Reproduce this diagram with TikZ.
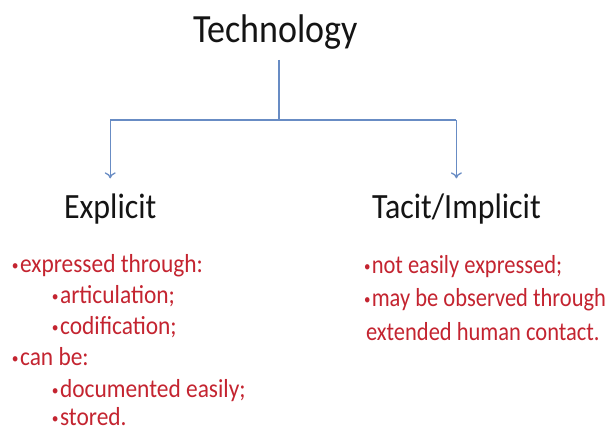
\documentclass[tikz,border=0pt]{standalone}
\usepackage{fontspec}
\setmainfont{Carlito}
\usetikzlibrary{arrows.meta}
\definecolor{linkblue}{RGB}{104,140,196}
\definecolor{tred}{RGB}{196,36,48}
\definecolor{tblack}{RGB}{20,20,20}
\newcommand{\sq}[1]{\scalebox{0.9}[1]{#1}}
\newcommand{\sqr}[1]{\scalebox{0.865}[1]{#1}}
\newcommand{\bul}{{\fontsize{15}{15}\selectfont\raisebox{1.5pt}{•}}\kern1.5pt}
\begin{document}
\begin{tikzpicture}[x=1pt,y=-1pt,
  txt/.style={anchor=base west,inner sep=0pt,outer sep=0pt},
  title/.style={txt,text=tblack,font=\fontsize{40}{40}\selectfont},
  head/.style={txt,text=tblack,font=\fontsize{35.5}{36}\selectfont},
  item/.style={txt,text=tred,font=\fontsize{26}{26}\selectfont},
  link/.style={draw=linkblue,line width=1.3pt},
  arr/.style={link,-{To[length=6pt,width=11pt]},shorten >=15pt}]
\useasboundingbox[fill=white] (0,0) rectangle (614,428);
\node[title] (tech) at (193,43) {\sq{Technology}};
\node[head] (explicit) at (64,218) {\sq{Explicit}};
\node[head] (tacit) at (372,218) {\sq{Tacit/Implicit}};
\coordinate (j) at (279,120);
\draw[link] (j |- 0,60) -- (j);
\draw[link] (explicit.north |- j) -- (tacit.north |- j);
\draw[arr] (explicit.north |- j) -- (explicit.north);
\draw[arr] (tacit.north |- j) -- (tacit.north);
% left list
\node[item] (e1) at (12,272) {\sq{\bul expressed through:}};
\node[item] (e2) at (52,303) {\sq{\bul articulation;}};
\node[item] (e3) at (52,334) {\sq{\bul codification;}};
\node[item] (e4) at (12,365) {\sq{\bul can be:}};
\node[item] (e5) at (52,397) {\sq{\bul documented easily;}};
\node[item] (e6) at (52,425) {\sq{\bul stored.}};
% right list
\node[item] (t1) at (364,273) {\sqr{\bul not easily expressed;}};
\node[item] (t2) at (364,306) {\sqr{\bul may be observed through}};
\node[item] (t3) at (366,340) {\sqr{extended human contact.}};
\end{tikzpicture}
\end{document}
